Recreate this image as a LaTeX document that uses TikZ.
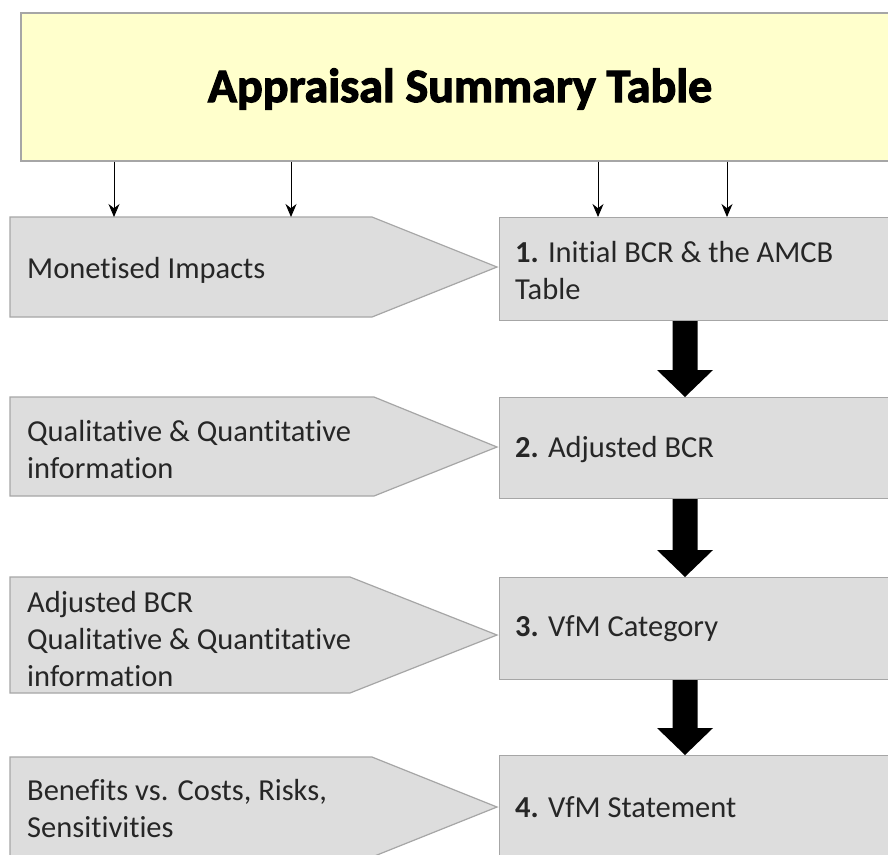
\documentclass[tikz,border=0pt]{standalone}
\usepackage{fontspec}
\setmainfont{Carlito}[Ligatures={NoCommon}]
\newfontfamily\titlefont{Carlito Bold}[FakeBold=2.5]
\usetikzlibrary{arrows.meta,calc}
\definecolor{boxgray}{HTML}{DDDDDD}
\definecolor{edgegray}{HTML}{A6A6A6}
\definecolor{titleyellow}{HTML}{FFFFCC}
\begin{document}
\begin{tikzpicture}[x=1pt,y=-1pt,
  txt/.style={font=\fontsize{30.5}{37}\selectfont, align=left, inner sep=0pt, text=black!85},
  stepbox/.style={draw=edgegray, line width=1.2pt, fill=boxgray, rectangle, anchor=north west, inner sep=0pt},
  pent/.style={draw=edgegray, line width=1.2pt, fill=boxgray},
  thin/.style={-{Stealth[length=13pt,width=11pt]}, line width=0.9pt},
  bigarrow/.style={fill=black}
]
\useasboundingbox (0,0) rectangle (888,854);
\clip (0,0) rectangle (888,854);
\fill[white] (0,0) rectangle (888,854);

% title
\node[draw=edgegray, line width=1.5pt, fill=titleyellow, anchor=north west, minimum width=900pt, minimum height=148pt, inner sep=0pt] (title) at (20,12) {};
\node[font=\fontsize{48}{60}\titlefont, inner sep=0pt] (titletext) at (460,89) {Appraisal Summary Table};

% right boxes
\node[stepbox, minimum width=420pt, minimum height=103pt] (r1) at (499,217) {};
\node[stepbox, minimum width=420pt, minimum height=101pt] (r2) at (499,397) {};
\node[stepbox, minimum width=420pt, minimum height=102pt] (r3) at (499,577) {};
\node[stepbox, minimum width=420pt, minimum height=110pt] (r4) at (499,755) {};

\node[txt, anchor=west] (t1) at (515,271) {\textbf{1.} Initial BCR \& the AMCB\\Table};
\node[txt, anchor=west] (t2) at (515,450) {\textbf{2.} Adjusted BCR};
\node[txt, anchor=west] (t3) at (515,629) {\textbf{3.} VfM Category};
\node[txt, anchor=west] (t4) at (515,807) {\textbf{4.} VfM Statement};

% left pentagons
\draw[pent] (10,217) -- (372,217) -- (497,267) -- (372,317) -- (10,317) -- cycle;
\draw[pent] (10,397) -- (374,397) -- (497,447) -- (374,496) -- (10,496) -- cycle;
\draw[pent] (10,577) -- (350,577) -- (497,635) -- (350,693) -- (10,693) -- cycle;
\draw[pent] (10,757) -- (372,757) -- (497,807) -- (372,857) -- (10,857) -- cycle;

\node[txt, anchor=west] (l1) at (27,270) {Monetised Impacts};
\node[txt, anchor=west] (l2) at (27,450) {Qualitative \& Quantitative\\information};
\node[txt, anchor=west] (l3) at (27,639) {Adjusted BCR\\Qualitative \& Quantitative\\information};
\node[txt, anchor=west] (l4) at (27,809) {Benefits vs. Costs, Risks,\\Sensitivities};

% thin arrows from title
\foreach \xx in {114, 291, 598, 727}{
  \coordinate (a\xx) at (\xx,217);
  \draw[thin] (title.south -| a\xx) -- (a\xx);
}

% big black arrows
\foreach \a/\b in {r1/r2, r2/r3, r3/r4}{
  \path (\a.south -| 685,0) coordinate (s) (\b.north -| 685,0) coordinate (e);
  \fill[bigarrow] ($(s)+(-12.5,0)$) -- ($(e)+(-12.5,-27)$) -- ($(e)+(-28,-27)$) -- (e) -- ($(e)+(28,-27)$) -- ($(e)+(12.5,-27)$) -- ($(s)+(12.5,0)$) -- cycle;
}
\end{tikzpicture}
\end{document}
